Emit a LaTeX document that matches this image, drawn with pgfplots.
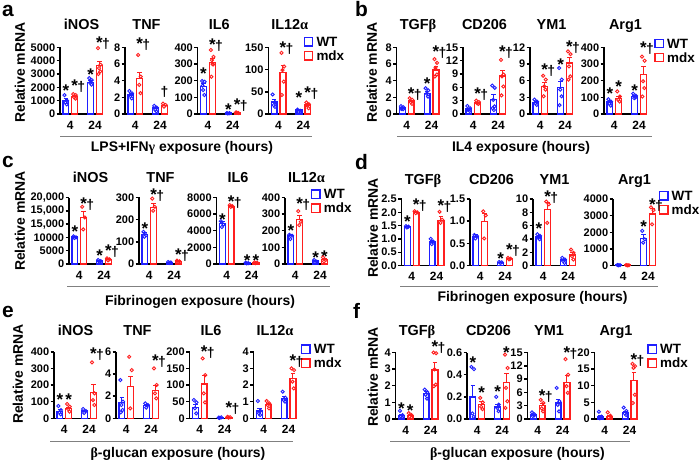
\documentclass[border=0pt]{standalone}
\usepackage{fontspec}
\setmainfont{Liberation Sans}
\newfontfamily\grk{Liberation Serif}
\usepackage{pgfplots}
\pgfplotsset{compat=1.18}
\definecolor{wtc}{HTML}{1F1FFF}
\definecolor{mdxc}{HTML}{FF1F1F}
\newcommand\ttlfont{\fontsize{14.5}{16}\selectfont\bfseries}
\newcommand\lblfont{\fontsize{14}{16}\selectfont\bfseries}
\newcommand\lgfont{\fontsize{13.5}{16}\selectfont\bfseries}
\newcommand\annfont{\fontsize{14}{16}\selectfont\bfseries}
\pgfplotsset{
 sub/.style={
  scale only axis, width=43bp, height=66.5bp, anchor=south west,
  xmin=0, xmax=43, ymin=0, clip=false, scaled y ticks=false,
  axis x line*=bottom, axis y line*=left,
  axis line style={line width=1.4bp, black},
  xtick={10.2,35}, xticklabels={4,24},
  x tick style={draw=none},
  y tick style={line width=1.4bp, black},
  tick align=outside, major tick length=3.5bp,
  xticklabel style={font=\fontsize{12}{12}\selectfont\bfseries},
  yticklabel style={font=\fontsize{11}{11}\selectfont\bfseries, inner xsep=1.2bp},
 },
 wtbar/.style={ybar, bar width=5.8, bar shift=0pt, draw=wtc, fill=white, line width=1.4bp,
   error bars/y dir=plus, error bars/y explicit,
   error bars/error bar style={line width=1bp, wtc},
   error bars/error mark options={rotate=90, mark size=2.2bp, line width=1bp, wtc}},
 mdxbar/.style={ybar, bar width=5.8, bar shift=0pt, draw=mdxc, fill=white, line width=1.4bp,
   error bars/y dir=plus, error bars/y explicit,
   error bars/error bar style={line width=1bp, mdxc},
   error bars/error mark options={rotate=90, mark size=2.2bp, line width=1bp, mdxc}},
 wtpts/.style={only marks, mark=o, mark size=1.6bp, draw=wtc, mark options={line width=0.9bp, draw=wtc}},
 mdxpts/.style={only marks, mark=o, mark size=1.6bp, draw=mdxc, mark options={line width=0.9bp, draw=mdxc}},
}
\tikzset{ann/.style={font=\annfont, anchor=base, yshift=-9.5bp, inner sep=0pt}}
\newcommand\ST{{\fontsize{17}{18}\selectfont *}}
\newcommand\SD{\ST\rlap{\kern-0.5bp †}}
\newcommand\ttl[3]{\node[font=\ttlfont, anchor=base, inner sep=0pt] at ({#1+21.5},#2) {#3};}
\newcommand\lgd[2]{%
 \draw[wtc, line width=1.5bp] (#1,#2) rectangle ++(8.3,8.3);
 \draw[mdxc, line width=1.5bp] (#1,{#2+14}) rectangle ++(8.3,8.3);
 \node[anchor=west, font=\lgfont, inner sep=0pt] at ({#1+12},{#2+4.15}) {WT};
 \node[anchor=west, font=\lgfont, inner sep=0pt] at ({#1+12},{#2+18.15}) {mdx};}
\newcommand\ylab[2]{\node[rotate=90, font=\lblfont, inner sep=0pt] at (#1,#2) {Relative mRNA};}
\newcommand\plet[3]{\node[anchor=base west, font=\fontsize{21}{21}\selectfont\bfseries, inner sep=0pt] at (#1,#2) {#3};}
\begin{document}
\begin{tikzpicture}[x=1bp,y=-1bp]
\path[use as bounding box] (0,0) rectangle (700,462);
% ================= panel a =================
\plet{2}{17}{a}
\ylab{20}{72.5}
\ttl{60}{30}{iNOS}\ttl{125}{30}{TNF}\ttl{197.7}{30}{IL6}\ttl{268.3}{30}{IL12{\grk α}}
\lgd{304.3}{37.7}
\draw[black!50, line width=1.5bp] (60,136.7) -- (312,136.7);
\node[anchor=base, font=\lblfont, inner sep=0pt] at (182,152) {LPS+IFN{\grk γ} exposure (hours)};
\begin{axis}[sub, at={(60bp,-114bp)}, ymax=5000, ytick={0,1000,2000,3000,4000,5000}, yticklabels={0,1000,2000,3000,4000,5000}]
\addplot[wtbar] coordinates {(5.8,1000) +- (0,160) (30.6,2380) +- (0,120)};
\addplot[mdxbar] coordinates {(14.6,1320) +- (0,100) (39.4,3650) +- (0,320)};
\addplot[wtpts] coordinates {(4.4,1420)(7.0,1000)(5.4,870)(6.7,720) (29.2,2700)(31.8,2550)(30.2,2350)(31.5,2200)};
\addplot[mdxpts] coordinates {(13.2,1500)(15.8,1420)(14.2,1250)(15.5,1150) (38.0,4950)(40.6,3700)(39.0,3450)(40.3,3200)(38.4,3000)};
\node[ann] at (axis cs:5.8,2050) {\ST};
\node[ann] at (axis cs:14.6,2400) {\SD};
\node[ann] at (axis cs:30.6,3250) {\ST};
\node[ann] at (axis cs:39.4,5650) {\SD};
\end{axis}
\begin{axis}[sub, at={(125bp,-114bp)}, ymax=8, ytick={0,2,4,6,8}, yticklabels={0,2,4,6,8}]
\addplot[wtbar] coordinates {(5.8,2.3) +- (0,0.12) (30.6,0.7) +- (0,0.1)};
\addplot[mdxbar] coordinates {(14.6,4.3) +- (0,0.75) (39.4,1.0) +- (0,0.08)};
\addplot[wtpts] coordinates {(4.4,2.76)(7.0,2.48)(5.4,2.16)(6.7,1.88) (29.2,0.98)(31.8,0.76)(30.2,0.5)(31.5,0.3)};
\addplot[mdxpts] coordinates {(13.2,7.1)(15.8,4.5)(14.2,3.5)(15.5,2.5) (38.0,1.25)(40.6,1.08)(39.0,0.88)};
\node[ann] at (axis cs:14.6,8.9) {\SD};
\node[ann, yshift=5.5bp] at (axis cs:39.4,2.6) {†};
\end{axis}
\begin{axis}[sub, at={(197.7bp,-114bp)}, ymax=400, ytick={0,100,200,300,400}, yticklabels={0,100,200,300,400}]
\addplot[wtbar] coordinates {(5.8,165) +- (0,20) (30.6,5) +- (0,1)};
\addplot[mdxbar] coordinates {(14.6,310) +- (0,25) (39.4,7) +- (0,1)};
\addplot[wtpts] coordinates {(4.4,198)(7.0,194)(5.4,144)(6.7,114)(4.8,170) (29.2,6)(31.8,5)(30.2,3)};
\addplot[mdxpts] coordinates {(13.2,385)(15.8,344)(14.2,324)(15.5,298)(13.6,224)(14.9,300) (38.0,8)(40.6,6)(39.0,9)};
\node[ann] at (axis cs:5.8,262) {\ST};
\node[ann] at (axis cs:14.6,440) {\SD};
\node[ann] at (axis cs:30.6,50) {\ST};
\node[ann] at (axis cs:39.4,80) {\SD};
\end{axis}
\begin{axis}[sub, at={(268.3bp,-114bp)}, ymax=150, ytick={0,50,100,150}, yticklabels={0,50,100,150}]
\addplot[wtbar] coordinates {(5.8,27) +- (0,6) (30.6,9) +- (0,1.5)};
\addplot[mdxbar] coordinates {(14.6,93) +- (0,16) (39.4,20) +- (0,3)};
\addplot[wtpts] coordinates {(4.4,44)(7.0,26)(5.4,20)(6.7,16) (29.2,10)(31.8,7.5)(30.2,5)};
\addplot[mdxpts] coordinates {(13.2,138)(15.8,107)(14.2,99)(15.5,73)(13.6,43) (38.0,26)(40.6,22)(39.0,19)(40.3,13)};
\node[ann] at (axis cs:14.6,158) {\SD};
\node[ann] at (axis cs:30.6,46) {\ST};
\node[ann] at (axis cs:39.4,57) {\SD};
\end{axis}
% ================= panel b =================
\plet{355}{17}{b}
\ylab{372}{72.5}
\ttl{396.5}{30}{TGF{\grk β}}\ttl{463}{30}{CD206}\ttl{530}{30}{YM1}\ttl{604}{30}{Arg1}
\lgd{655}{39.3}
\draw[black!50, line width=1.5bp] (397,136.7) -- (652,136.7);
\node[anchor=base, font=\lblfont, inner sep=0pt] at (521,152) {IL4 exposure (hours)};
\begin{axis}[sub, at={(396.5bp,-114bp)}, ymax=8, ytick={0,2,4,6,8}, yticklabels={0,2,4,6,8}]
\addplot[wtbar] coordinates {(5.8,0.7) +- (0,0.06) (30.6,2.5) +- (0,0.2)};
\addplot[mdxbar] coordinates {(14.6,1.55) +- (0,0.12) (39.4,5.3) +- (0,0.4)};
\addplot[wtpts] coordinates {(4.4,0.95)(7.0,0.8)(5.4,0.7)(6.7,0.57)(4.8,0.6) (29.2,3.1)(31.8,2.85)(30.2,2.45)(31.5,2.1)};
\addplot[mdxpts] coordinates {(13.2,1.9)(15.8,1.7)(14.2,1.42)(15.5,1.22) (38.0,6.6)(40.6,6.15)(39.0,5.55)(40.3,4.75)(38.4,4.5)};
\node[ann] at (axis cs:14.6,2.9) {\SD};
\node[ann] at (axis cs:30.6,4.1) {\ST};
\node[ann] at (axis cs:39.4,7.9) {\SD};
\end{axis}
\begin{axis}[sub, at={(463bp,-114bp)}, ymax=15, ytick={0,3,6,9,12,15}, yticklabels={0,3,6,9,12,15}]
\addplot[wtbar] coordinates {(5.8,1.1) +- (0,0.15) (30.6,3.3) +- (0,1.0)};
\addplot[mdxbar] coordinates {(14.6,2.5) +- (0,0.15) (39.4,8.6) +- (0,1.3)};
\addplot[wtpts] coordinates {(4.4,1.8)(7.0,1.3)(5.4,0.9)(6.7,0.7)(4.8,1.0) (29.2,6.4)(31.8,5.9)(30.2,3.2)(31.5,1.7)(29.6,1.3)(30.9,0.9)};
\addplot[mdxpts] coordinates {(13.2,3.0)(15.8,2.7)(14.2,2.4)(15.5,2.3) (38.0,12.2)(40.6,8.9)(39.0,8.5)(40.3,6.2)(38.4,4.2)};
\node[ann] at (axis cs:14.6,5.5) {\SD};
\node[ann] at (axis cs:39.4,14.8) {\SD};
\end{axis}
\begin{axis}[sub, at={(530bp,-114bp)}, ymax=12, ytick={0,3,6,9,12}, yticklabels={0,3,6,9,12}]
\addplot[wtbar] coordinates {(5.8,2.1) +- (0,0.15) (30.6,4.8) +- (0,1.0)};
\addplot[mdxbar] coordinates {(14.6,5.0) +- (0,0.6) (39.4,9.2) +- (0,1.0)};
\addplot[wtpts] coordinates {(4.4,2.6)(7.0,2.25)(5.4,1.95)(6.7,1.65) (29.2,8.3)(31.8,6.2)(30.2,4.4)(31.5,3.2)(29.6,1.6)};
\addplot[mdxpts] coordinates {(13.2,6.9)(15.8,6.2)(14.2,5.0)(15.5,4.4)(13.6,3.2) (38.0,11.3)(40.6,10.8)(39.0,8.6)(40.3,6.8)(38.4,6.2)};
\node[ann] at (axis cs:14.6,8.6) {\SD};
\node[ann] at (axis cs:30.6,9.6) {\ST};
\node[ann] at (axis cs:39.4,12.9) {\SD};
\end{axis}
\begin{axis}[sub, at={(604bp,-114bp)}, ymax=400, ytick={0,100,200,300,400}, yticklabels={0,100,200,300,400}]
\addplot[wtbar] coordinates {(5.8,72) +- (0,8) (30.6,105) +- (0,6)};
\addplot[mdxbar] coordinates {(14.6,93) +- (0,10) (39.4,237) +- (0,48)};
\addplot[wtpts] coordinates {(4.4,89)(7.0,75)(5.4,61)(6.7,50) (29.2,122)(31.8,110)(30.2,95)(31.5,100)};
\addplot[mdxpts] coordinates {(13.2,136)(15.8,105)(14.2,85)(15.5,75) (38.0,345)(40.6,320)(39.0,197)(40.3,156)(38.4,105)};
\node[ann] at (axis cs:5.8,146) {\ST};
\node[ann] at (axis cs:14.6,187) {\ST};
\node[ann] at (axis cs:30.6,162) {\ST};
\node[ann] at (axis cs:39.4,420) {\SD};
\end{axis}
% ================= panel c =================
\plet{2}{168}{c}
\ylab{20}{221}
\ttl{69}{183}{iNOS}\ttl{139}{183}{TNF}\ttl{216.5}{183}{IL6}\ttl{285}{183}{IL12{\grk α}}
\lgd{311.7}{190}
\draw[black!50, line width=1.5bp] (67,286.7) -- (330,286.7);
\node[anchor=base, font=\lblfont, inner sep=0pt] at (200,305.5) {Fibrinogen exposure (hours)};
\begin{axis}[sub, at={(69bp,-264bp)}, ymax=25000, ytick={0,5000,10000,15000,20000,25000}, yticklabels={0,5000,10000,{15,000},{15,000},{20,000}}]
\addplot[wtbar] coordinates {(5.8,10100) +- (0,200) (30.6,1200) +- (0,150)};
\addplot[mdxbar] coordinates {(14.6,17400) +- (0,2400) (39.4,1750) +- (0,200)};
\addplot[wtpts] coordinates {(4.4,10400)(7.0,10000)(5.4,9800) (29.2,1500)(31.8,1100)(30.2,900)};
\addplot[mdxpts] coordinates {(13.2,21500)(15.8,17500)(14.2,13000) (38.0,2100)(40.6,1750)(39.0,1400)};
\node[ann] at (axis cs:5.8,13400) {\ST};
\node[ann] at (axis cs:14.6,24000) {\SD};
\node[ann] at (axis cs:30.6,4400) {\ST};
\node[ann] at (axis cs:39.4,6300) {\SD};
\end{axis}
\begin{axis}[sub, at={(139bp,-264bp)}, ymax=300, ytick={0,100,200,300}, yticklabels={0,100,200,300}]
\addplot[wtbar] coordinates {(5.8,133) +- (0,8) (30.6,7) +- (0,1)};
\addplot[mdxbar] coordinates {(14.6,255) +- (0,18) (39.4,12) +- (0,2)};
\addplot[wtpts] coordinates {(4.4,145)(7.0,130)(5.4,123) (29.2,9)(31.8,7)(30.2,5)};
\addplot[mdxpts] coordinates {(13.2,295)(15.8,258)(14.2,240) (38.0,15)(40.6,12)(39.0,9)};
\node[ann] at (axis cs:5.8,175) {\ST};
\node[ann] at (axis cs:14.6,330) {\SD};
\node[ann] at (axis cs:39.4,60) {\SD};
\end{axis}
\begin{axis}[sub, at={(216.5bp,-264bp)}, ymax=8000, ytick={0,2000,4000,6000,8000}, yticklabels={0,2000,4000,6000,8000}]
\addplot[wtbar] coordinates {(5.8,4900) +- (0,250) (30.6,100) +- (0,20)};
\addplot[mdxbar] coordinates {(14.6,6950) +- (0,60) (39.4,150) +- (0,30)};
\addplot[wtpts] coordinates {(4.4,5150)(7.0,4750)(5.4,4450) (29.2,150)(31.8,100)(30.2,80)};
\addplot[mdxpts] coordinates {(13.2,7080)(15.8,6960)(14.2,6880) (38.0,200)(40.6,150)(39.0,100)};
\node[ann] at (axis cs:5.8,5800) {\ST};
\node[ann] at (axis cs:14.6,7900) {\SD};
\node[ann] at (axis cs:30.6,800) {\ST};
\node[ann] at (axis cs:39.4,850) {\ST};
\end{axis}
\begin{axis}[sub, at={(285bp,-264bp)}, ymax=400, ytick={0,100,200,300,400}, yticklabels={0,100,200,300,400}]
\addplot[wtbar] coordinates {(5.8,170) +- (0,6) (30.6,17) +- (0,4)};
\addplot[mdxbar] coordinates {(14.6,268) +- (0,25) (39.4,27) +- (0,7)};
\addplot[wtpts] coordinates {(4.4,176)(7.0,170)(5.4,150) (29.2,24)(31.8,14)(30.2,10)};
\addplot[mdxpts] coordinates {(13.2,318)(15.8,254)(14.2,234) (38.0,40)(40.6,24)(39.0,16)};
\node[ann] at (axis cs:5.8,220) {\ST};
\node[ann] at (axis cs:14.6,385) {\SD};
\node[ann] at (axis cs:30.6,58) {\ST};
\node[ann] at (axis cs:39.4,64) {\ST};
\end{axis}
% ================= panel d =================
\plet{355}{169.5}{d}
\ylab{373}{228}
\ttl{401.5}{184.5}{TGF{\grk β}}\ttl{470}{184.5}{CD206}\ttl{533}{184.5}{YM1}\ttl{613}{184.5}{Arg1}
\lgd{659.5}{191.7}
\draw[black!50, line width=1.5bp] (400,286.7) -- (658,286.7);
\node[anchor=base, font=\lblfont, inner sep=0pt] at (532.5,302) {Fibrinogen exposure (hours)};
\begin{axis}[sub, at={(401.5bp,-265.5bp)}, ymax=2.5, ytick={0,0.5,1,1.5,2,2.5}, yticklabels={0.0,0.5,1.0,1.5,2.0,2.5}]
\addplot[wtbar] coordinates {(5.8,1.46) +- (0,0.02) (30.6,0.88) +- (0,0.06)};
\addplot[mdxbar] coordinates {(14.6,2.0) +- (0,0.02) (39.4,1.7) +- (0,0.15)};
\addplot[wtpts] coordinates {(4.4,1.48)(7.0,1.46)(5.4,1.43) (29.2,1.0)(31.8,0.9)(30.2,0.8)};
\addplot[mdxpts] coordinates {(13.2,2.04)(15.8,2.0)(14.2,1.97) (38.0,2.02)(40.6,1.72)(39.0,1.6)};
\node[ann] at (axis cs:5.8,1.78) {\ST};
\node[ann] at (axis cs:14.6,2.41) {\SD};
\node[ann] at (axis cs:39.4,2.39) {\SD};
\end{axis}
\begin{axis}[sub, at={(470bp,-265.5bp)}, ymax=1.5, ytick={0,0.5,1,1.5}, yticklabels={0.0,0.5,1.0,1.5}]
\addplot[wtbar] coordinates {(5.8,0.66) +- (0,0.03) (30.6,0.07) +- (0,0.005)};
\addplot[mdxbar] coordinates {(14.6,0.99) +- (0,0.19) (39.4,0.155) +- (0,0.01)};
\addplot[wtpts] coordinates {(4.4,0.69)(7.0,0.66)(5.4,0.61) (29.2,0.08)(31.8,0.07)(30.2,0.06)};
\addplot[mdxpts] coordinates {(13.2,1.22)(15.8,1.13)(14.2,0.61) (38.0,0.17)(40.6,0.155)(39.0,0.14)};
\node[ann] at (axis cs:30.6,0.24) {\ST};
\node[ann] at (axis cs:39.4,0.43) {\SD};
\end{axis}
\begin{axis}[sub, at={(533bp,-265.5bp)}, ymax=10, ytick={0,2,4,6,8,10}, yticklabels={0,2,4,6,8,10}]
\addplot[wtbar] coordinates {(5.8,4.3) +- (0,0.15) (30.6,0.8) +- (0,0.15)};
\addplot[mdxbar] coordinates {(14.6,8.4) +- (0,1.0) (39.4,1.6) +- (0,0.3)};
\addplot[wtpts] coordinates {(4.4,4.7)(7.0,4.45)(5.4,4.2)(6.7,3.95) (29.2,1.15)(31.8,0.9)(30.2,0.65)(31.5,0.4)};
\addplot[mdxpts] coordinates {(13.2,9.6)(15.8,9.2)(14.2,6.4) (38.0,2.4)(40.6,1.9)(39.0,1.4)(40.3,0.9)};
\node[ann] at (axis cs:5.8,6.1) {\ST};
\node[ann] at (axis cs:14.6,10.9) {\SD};
\end{axis}
\begin{axis}[sub, at={(613bp,-265.5bp)}, ymax=4000, ytick={0,1000,2000,3000,4000}, yticklabels={0,1000,2000,3000,4000}]
\addplot[wtbar] coordinates {(5.8,20) +- (0,5) (30.6,1620) +- (0,220)};
\addplot[mdxbar] coordinates {(14.6,20) +- (0,5) (39.4,3100) +- (0,320)};
\addplot[wtpts] coordinates {(4.4,30)(7.0,20)(5.4,10) (29.2,2080)(31.8,1575)(30.2,1370)};
\addplot[mdxpts] coordinates {(13.2,30)(15.8,15)(14.2,10) (38.0,3500)(40.6,3330)(39.0,2480)};
\node[ann] at (axis cs:30.6,2580) {\ST};
\node[ann] at (axis cs:39.4,3900) {\SD};
\end{axis}
% ================= panel e =================
\plet{2}{318}{e}
\ylab{18}{374}
\ttl{54}{336}{iNOS}\ttl{116}{336}{TNF}\ttl{189.5}{336}{IL6}\ttl{253.5}{336}{IL12{\grk α}}
\lgd{301.7}{345}
\draw[black!50, line width=1.5bp] (50,441.7) -- (293,441.7);
\node[anchor=base, font=\lblfont, inner sep=0pt] at (178,457) {{\grk β}-glucan exposure (hours)};
\begin{axis}[sub, at={(54bp,-418.3bp)}, ymax=400, ytick={0,100,200,300,400}, yticklabels={0,100,200,300,400}]
\addplot[wtbar] coordinates {(5.8,42) +- (0,10) (30.6,44) +- (0,5)};
\addplot[mdxbar] coordinates {(14.6,60) +- (0,8) (39.4,156) +- (0,45)};
\addplot[wtpts] coordinates {(4.4,74)(7.0,50)(5.4,36)(6.7,24) (29.2,56)(31.8,44)(30.2,32)};
\addplot[mdxpts] coordinates {(13.2,86)(15.8,70)(14.2,56)(15.5,40) (38.0,336)(40.6,150)(39.0,110)(40.3,80)};
\node[ann] at (axis cs:5.8,136) {\ST};
\node[ann] at (axis cs:14.6,136) {\ST};
\node[ann] at (axis cs:39.4,410) {\SD};
\end{axis}
\begin{axis}[sub, at={(116bp,-418.3bp)}, ymax=6, ytick={0,2,4,6}, yticklabels={0,2,4,6}]
\addplot[wtbar] coordinates {(5.8,1.4) +- (0,0.45) (30.6,1.15) +- (0,0.12)};
\addplot[mdxbar] coordinates {(14.6,2.85) +- (0,0.95) (39.4,2.5) +- (0,0.45)};
\addplot[wtpts] coordinates {(4.4,3.45)(7.0,1.5)(5.4,1.2)(6.7,0.75)(4.8,0.54) (29.2,1.35)(31.8,1.2)(30.2,0.96)};
\addplot[mdxpts] coordinates {(13.2,5.55)(15.8,4.35)(14.2,0.9) (38.0,4.5)(40.6,3.0)(39.0,2.25)(40.3,1.8)};
\node[ann] at (axis cs:39.4,5.55) {\SD};
\end{axis}
\begin{axis}[sub, at={(189.5bp,-418.3bp)}, ymax=200, ytick={0,50,100,150,200}, yticklabels={0,50,100,150,200}]
\addplot[wtbar] coordinates {(5.8,33) +- (0,8) (30.6,2) +- (0,0.5)};
\addplot[mdxbar] coordinates {(14.6,103) +- (0,27) (39.4,3) +- (0,0.5)};
\addplot[wtpts] coordinates {(4.4,55)(7.0,48)(5.4,30)(6.7,15) (29.2,2)(31.8,3)(30.2,1)};
\addplot[mdxpts] coordinates {(13.2,180)(15.8,130)(14.2,75)(15.5,48) (38.0,4)(40.6,3)(39.0,2)};
\node[ann] at (axis cs:14.6,210) {\SD};
\node[ann] at (axis cs:39.4,42) {\SD};
\end{axis}
\begin{axis}[sub, at={(253.5bp,-418.3bp)}, ymax=4, ytick={0,1,2,3,4}, yticklabels={0,1,2,3,4}]
\addplot[wtbar] coordinates {(5.8,0.45) +- (0,0.15) (30.6,1.2) +- (0,0.12)};
\addplot[mdxbar] coordinates {(14.6,0.82) +- (0,0.08) (39.4,2.4) +- (0,0.3)};
\addplot[wtpts] coordinates {(4.4,1.04)(7.0,0.44)(5.4,0.3)(6.7,0.2) (29.2,1.6)(31.8,1.24)(30.2,1.1)(31.5,1.0)};
\addplot[mdxpts] coordinates {(13.2,1.04)(15.8,0.9)(14.2,0.8)(15.5,0.6) (38.0,3.0)(40.6,2.9)(39.0,2.2)(40.3,1.8)};
\node[ann] at (axis cs:39.4,3.7) {\SD};
\end{axis}
% ================= panel f =================
\plet{353}{319}{f}
\ylab{373}{377}
\ttl{395.5}{336}{TGF{\grk β}}\ttl{467}{336}{CD206}\ttl{527.5}{336}{YM1}\ttl{594.5}{336}{Arg1}
\lgd{648}{345}
\draw[black!50, line width=1.5bp] (390,441.7) -- (630,441.7);
\node[anchor=base, font=\lblfont, inner sep=0pt] at (517.5,457) {{\grk β}-glucan exposure (hours)};
\begin{axis}[sub, at={(395.5bp,-419bp)}, ymax=4, ytick={0,1,2,3,4}, yticklabels={0,1,2,3,4}]
\addplot[wtbar] coordinates {(5.8,0.22) +- (0,0.08) (30.6,1.55) +- (0,0.1)};
\addplot[mdxbar] coordinates {(14.6,0.22) +- (0,0.04) (39.4,2.95) +- (0,0.45)};
\addplot[wtpts] coordinates {(4.4,0.49)(7.0,0.24)(5.4,0.14)(6.7,0.08) (29.2,1.77)(31.8,1.62)(30.2,1.46)(31.5,1.22)};
\addplot[mdxpts] coordinates {(13.2,0.35)(15.8,0.24)(14.2,0.14) (38.0,4.0)(40.6,3.96)(39.0,2.98)(40.3,2.07)(38.4,1.97)};
\node[ann] at (axis cs:5.8,0.85) {\ST};
\node[ann] at (axis cs:14.6,0.75) {\ST};
\node[ann] at (axis cs:39.4,4.6) {\SD};
\end{axis}
\begin{axis}[sub, at={(467bp,-419bp)}, ymax=0.6, ytick={0,0.2,0.4,0.6}, yticklabels={0.0,0.2,0.4,0.6}]
\addplot[wtbar] coordinates {(5.8,0.2) +- (0,0.1) (30.6,0.11) +- (0,0.025)};
\addplot[mdxbar] coordinates {(14.6,0.13) +- (0,0.03) (39.4,0.33) +- (0,0.08)};
\addplot[wtpts] coordinates {(4.4,0.47)(7.0,0.45)(5.4,0.05)(6.7,0.02) (29.2,0.2)(31.8,0.13)(30.2,0.1)(31.5,0.07)};
\addplot[mdxpts] coordinates {(13.2,0.19)(15.8,0.15)(14.2,0.11)(15.5,0.09) (38.0,0.58)(40.6,0.46)(39.0,0.28)(40.3,0.16)(38.4,0.1)};
\node[ann] at (axis cs:5.8,0.54) {\ST};
\node[ann] at (axis cs:14.6,0.27) {\ST};
\node[ann] at (axis cs:30.6,0.28) {\ST};
\node[ann] at (axis cs:39.4,0.63) {\ST};
\end{axis}
\begin{axis}[sub, at={(527.5bp,-419bp)}, ymax=15, ytick={0,3,6,9,12,15}, yticklabels={0,3,6,9,12,15}]
\addplot[wtbar] coordinates {(5.8,0.9) +- (0,0.15) (30.6,3.6) +- (0,0.9)};
\addplot[mdxbar] coordinates {(14.6,3.1) +- (0,0.5) (39.4,8.3) +- (0,1.6)};
\addplot[wtpts] coordinates {(4.4,1.5)(7.0,1.07)(5.4,0.68)(6.7,0.8) (29.2,7.0)(31.8,4.0)(30.2,3.2)(31.5,1.7)};
\addplot[mdxpts] coordinates {(13.2,4.3)(15.8,3.6)(14.2,2.4)(15.5,1.7) (38.0,13.5)(40.6,10)(39.0,7.4)(40.3,5.9)};
\node[ann] at (axis cs:14.6,6.2) {\SD};
\node[ann] at (axis cs:39.4,15.7) {\SD};
\end{axis}
\begin{axis}[sub, at={(594.5bp,-419bp)}, ymax=20, ytick={0,5,10,15,20}, yticklabels={0,5,10,15,20}]
\addplot[wtbar] coordinates {(5.8,0.6) +- (0,0.4) (30.6,1.9) +- (0,0.4)};
\addplot[mdxbar] coordinates {(14.6,0.8) +- (0,0.3) (39.4,11.5) +- (0,2.4)};
\addplot[wtpts] coordinates {(4.4,2.2)(7.0,0.7)(5.4,0.2) (29.2,3.45)(31.8,2.4)(30.2,1.7)(31.5,1.2)};
\addplot[mdxpts] coordinates {(13.2,2.0)(15.8,1.0)(14.2,0.4) (38.0,16.6)(40.6,15.9)(39.0,15.4)(40.3,7.3)(38.4,4.8)};
\node[ann] at (axis cs:39.4,19) {\SD};
\end{axis}
\end{tikzpicture}
\end{document}
